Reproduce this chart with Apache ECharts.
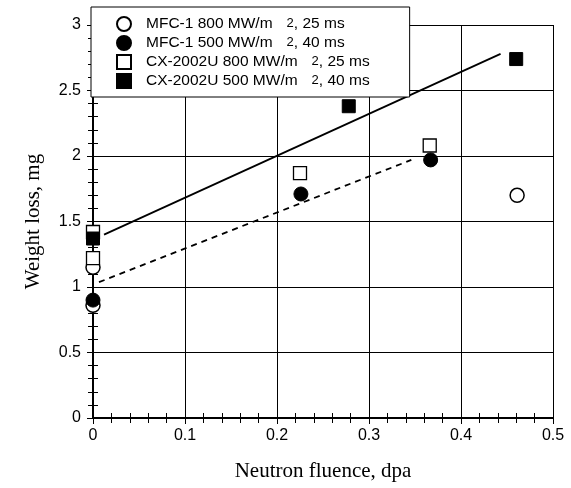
<!DOCTYPE html>
<html>
<head>
<meta charset="utf-8">
<script src="https://cdn.jsdelivr.net/npm/echarts@6/dist/echarts.min.js"></script>
<style>html,body{margin:0;padding:0;background:#fff}#c{width:571px;height:488px}</style>
</head>
<body>
<div id="c"></div>
<script>
// Data (x: neutron fluence dpa, y: weight loss mg)
const seriesNames = ['MFC-1 800', 'MFC-1 500', 'CX-2002U 800', 'CX-2002U 500'];
const legendPre = ['MFC-1 800 MW/m', 'MFC-1 500 MW/m', 'CX-2002U 800 MW/m', 'CX-2002U 500 MW/m'];
const legendPost = [', 25 ms', ', 40 ms', ', 25 ms', ', 40 ms'];
const mfc800 = [[0, 0.86], [0, 1.15], [0.461, 1.70]];
const mfc500 = [[0, 0.90], [0.226, 1.71], [0.367, 1.97]];
const cx800 = [[0, 1.42], [0, 1.22], [0.225, 1.87], [0.366, 2.08]];
const cx500 = [[0, 1.37], [0.278, 2.38], [0.46, 2.74]];
const solidFit = [[0.012, 1.40], [0.443, 2.78]];
const dashedFit = [[0.0065, 1.037], [0.346, 1.97]];
const xTicks = [0, 0.1, 0.2, 0.3, 0.4, 0.5];
const yTicks = [0, 0.5, 1, 1.5, 2, 2.5, 3];

const chart = echarts.init(document.getElementById('c'), null, {renderer: 'canvas'});
const sans = 'Liberation Sans';
const serif = 'Liberation Serif';
const baseAxis = {
  axisLine: {show: true, lineStyle: {color: '#000', width: 2}},
  axisTick: {show: true, inside: true, length: 6, lineStyle: {color: '#000', width: 1}},
  minorTick: {show: true, splitNumber: 5, length: 5, lineStyle: {color: '#000', width: 1}},
  splitLine: {show: true, lineStyle: {color: '#000', width: 1}},
};
const option = {
  animation: false,
  backgroundColor: '#fff',
  grid: {left: 93, right: 18, top: 25, bottom: 70, containLabel: false},
  legend: {
    data: seriesNames,
    orient: 'vertical', left: 91, top: 7, z: 120,
    itemWidth: 14, itemHeight: 14, itemGap: 3,
    padding: [9, 40, 8, 25],
    backgroundColor: '#fff', borderColor: '#000', borderWidth: 1, borderRadius: 0,
    textStyle: {fontFamily: sans, fontSize: 15.5, color: '#000', lineHeight: 14, padding: [0, 0, 0, 10],
      rich: {
        m: {fontFamily: sans, fontSize: 15.5, color: '#000', lineHeight: 14},
        sup: {fontFamily: sans, fontSize: 13, color: '#000', lineHeight: 7, verticalAlign: 'top', padding: [0, 0, 0, 14]}
      }},
    formatter: function (name) {
      const i = seriesNames.indexOf(name);
      return '{m|' + legendPre[i] + '}{sup|2}{m|' + legendPost[i] + '}';
    }
  },
  xAxis: [
    Object.assign({}, baseAxis, {
      type: 'value', min: 0, max: 0.5, interval: 0.1, position: 'bottom',
      name: 'Neutron fluence, dpa', nameLocation: 'middle', nameGap: 43,
      nameTextStyle: {fontFamily: serif, fontSize: 21, color: '#000'},
      axisLabel: {fontFamily: sans, fontSize: 16, color: '#000', margin: 10,
        formatter: v => String(Math.round(v * 10) / 10)}
    }),
    Object.assign({}, baseAxis, {
      type: 'value', min: 0, max: 0.5, interval: 0.1, position: 'top',
      axisLabel: {show: false}, splitLine: {show: false}
    })
  ],
  yAxis: [
    Object.assign({}, baseAxis, {
      type: 'value', min: 0, max: 3, interval: 0.5, position: 'left',
      name: 'Weight loss, mg', nameLocation: 'middle', nameGap: 49,
      nameTextStyle: {fontFamily: serif, fontSize: 21, color: '#000'},
      axisLabel: {fontFamily: sans, fontSize: 16, color: '#000', margin: 12,
        formatter: v => String(v)}
    }),
    Object.assign({}, baseAxis, {
      type: 'value', min: 0, max: 3, interval: 0.5, position: 'right',
      axisLabel: {show: false}, splitLine: {show: false}
    })
  ],
  series: [
    {type: 'line', data: solidFit, symbol: 'none', z: 3,
      lineStyle: {color: '#000', width: 1.8, type: 'solid'}},
    {type: 'line', data: dashedFit, symbol: 'none', z: 3,
      lineStyle: {color: '#000', width: 1.8, type: [6, 5]}},
    {name: seriesNames[0], type: 'scatter', data: mfc800, symbol: 'circle', symbolSize: 14, z: 4,
      itemStyle: {color: '#fff', borderColor: '#000', borderWidth: 1.5, opacity: 1}},
    {name: seriesNames[1], type: 'scatter', data: mfc500, symbol: 'circle', symbolSize: 14, z: 5,
      itemStyle: {color: '#000', borderColor: '#000', borderWidth: 1, opacity: 1}},
    {name: seriesNames[2], type: 'scatter', data: cx800, symbol: 'rect', symbolSize: 13, z: 6,
      itemStyle: {color: '#fff', borderColor: '#000', borderWidth: 1.3, opacity: 1}},
    {name: seriesNames[3], type: 'scatter', data: cx500, symbol: 'rect', symbolSize: 13, z: 7,
      itemStyle: {color: '#000', borderColor: '#000', borderWidth: 1, opacity: 1}}
  ]
};
chart.setOption(option);
</script>
</body>
</html>
